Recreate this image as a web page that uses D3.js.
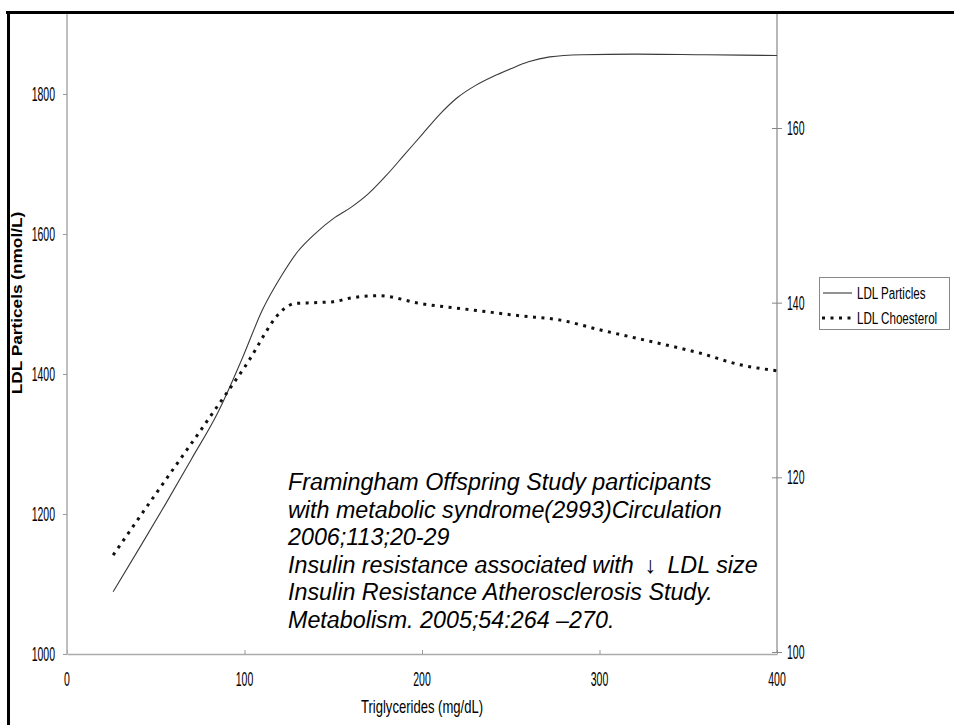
<!DOCTYPE html>
<html>
<head>
<meta charset="utf-8">
<script src="https://cdn.jsdelivr.net/npm/d3@7"></script>
<style>
  html, body { margin: 0; padding: 0; background: #fff; }
  svg { display: block; }
  text { font-family: "Liberation Sans", Arial, sans-serif; fill: #000; }
</style>
</head>
<body>
<svg id="chart" width="954" height="725"></svg>
<script>
// ---- data ----
const tgParticles = [26, 40, 55, 70, 85, 99, 110, 121, 130, 140, 150, 160, 170, 180, 190, 200, 210, 220, 230, 240, 250, 260, 272, 290, 320, 360, 400];
const ldlParticles = [1089, 1148, 1212, 1278, 1345, 1424, 1491, 1541, 1575, 1601, 1622, 1638, 1658, 1684, 1713, 1742, 1771, 1795, 1812, 1825, 1836, 1846, 1853, 1856, 1857, 1856, 1855];

const tgCholesterol = [26, 50, 75, 100, 123, 128, 139, 150, 159, 176, 199, 227, 255, 278, 300, 328, 357, 379, 400];
const ldlCholesterol = [111.1, 118.1, 125.3, 132.6, 139.4, 139.9, 140.0, 140.1, 140.5, 140.8, 139.9, 139.2, 138.5, 138.0, 136.9, 135.6, 134.2, 132.9, 132.2];

const xTicks = [0, 100, 200, 300, 400];
const leftTicks = [1000, 1200, 1400, 1600, 1800];
const rightTicks = [100, 120, 140, 160];

const seriesNames = ["LDL Particles", "LDL Choesterol"];
const xTitle = "Triglycerides (mg/dL)";
const yTitle = "LDL Particels (nmol/L)";
const noteLines = [
  ["Framingham Offspring Study participants"],
  ["with metabolic syndrome(2993)Circulation"],
  ["2006;113;20-29"],
  ["Insulin resistance associated with", "\u2193", "LDL size"],
  ["Insulin Resistance Atherosclerosis Study."],
  ["Metabolism. 2005;54:264 \u2013270."]
];

// ---- layout ----
const svg = d3.select("#chart");
const plotTop = 13;
const x = d3.scaleLinear().domain([0, 400]).range([67, 777]);
const yL = d3.scaleLinear().domain([1000, 1800]).range([654, 94]);
const yR = d3.scaleLinear().domain([100, 160]).range([652, 128]);

// axes
const gx = svg.append("g").attr("transform", `translate(0,${yL(1000)})`)
  .call(d3.axisBottom(x).tickValues(xTicks).tickFormat("").tickSizeInner(-4).tickSizeOuter(0));
gx.select(".domain").attr("stroke", "#aaa").attr("stroke-width", 1.6);
gx.selectAll(".tick line").attr("stroke", "#999");

const gl = svg.append("g").attr("transform", `translate(${x(0)},0)`)
  .call(d3.axisLeft(yL).tickValues(leftTicks).tickFormat("").tickSizeInner(4).tickSizeOuter(0));
gl.select(".domain").attr("d", `M0,${plotTop}V${yL(1000)}`).attr("stroke", "#b0b0b0").attr("stroke-width", 1.6);
gl.selectAll(".tick line").attr("stroke", "#999");

const gr = svg.append("g").attr("transform", `translate(${x(400)},0)`)
  .call(d3.axisRight(yR).tickValues(rightTicks).tickFormat("").tickSizeInner(5).tickSizeOuter(0));
gr.select(".domain").attr("d", `M0,${plotTop}V${yR(100)}`).attr("stroke", "#888").attr("stroke-width", 1.2);
gr.selectAll(".tick line").attr("x1", -5).attr("stroke", "#888");

// stretched labels helper
function label(g, txt, px, py, opts) {
  const o = Object.assign({ size: 15, sx: 0.7, sy: 1.3, anchor: "start", weight: "normal", rotate: 0 }, opts);
  return g.append("text")
    .attr("transform", `translate(${px},${py}) rotate(${o.rotate}) scale(${o.sx},${o.sy})`)
    .attr("text-anchor", o.anchor)
    .attr("dominant-baseline", "central")
    .attr("font-size", o.size)
    .attr("font-weight", o.weight)
    .text(txt);
}

const labels = svg.append("g");
leftTicks.forEach(v => label(labels, d3.format("d")(v), 55, yL(v), { anchor: "end" }));
rightTicks.forEach(v => label(labels, d3.format("d")(v), 787, yR(v), { anchor: "start" }));
xTicks.forEach(v => label(labels, d3.format("d")(v), x(v), 679, { anchor: "middle" }));

label(labels, xTitle, 422, 707, { anchor: "middle", size: 15, sx: 0.87, sy: 1.2 });
label(labels, yTitle, 17, 303, { anchor: "middle", size: 14, sx: 1.23, sy: 1, weight: "bold", rotate: -90 });

// lines
const lineP = d3.line().x((d, i) => x(tgParticles[i])).y(d => yL(d)).curve(d3.curveMonotoneX);
const lineC = d3.line().x((d, i) => x(tgCholesterol[i])).y(d => yR(d)).curve(d3.curveMonotoneX);

svg.append("path").datum(ldlParticles).attr("d", lineP)
  .attr("fill", "none").attr("stroke", "#3a3a3a").attr("stroke-width", 1.1);
svg.append("path").datum(ldlCholesterol).attr("d", lineC)
  .attr("fill", "none").attr("stroke", "#111").attr("stroke-width", 3).attr("stroke-dasharray", "3,5.5");

// legend
const lg = svg.append("g");
lg.append("rect").attr("x", 819.5).attr("y", 277.5).attr("width", 130).attr("height", 52)
  .attr("fill", "#fff").attr("stroke", "#888").attr("stroke-width", 1);
lg.append("line").attr("x1", 823).attr("x2", 852).attr("y1", 293).attr("y2", 293)
  .attr("stroke", "#3a3a3a").attr("stroke-width", 1.1);
lg.append("line").attr("x1", 822).attr("x2", 855).attr("y1", 318).attr("y2", 318)
  .attr("stroke", "#111").attr("stroke-width", 3).attr("stroke-dasharray", "3,5.5");
label(lg, seriesNames[0], 857, 293, { size: 14, sx: 0.83, sy: 1.15 });
label(lg, seriesNames[1], 857, 318, { size: 14, sx: 0.83, sy: 1.15 });

// annotation
const note = svg.append("g");
noteLines.forEach((parts, i) => {
  const t = note.append("text").attr("x", 288).attr("y", 490 + i * 27.6)
    .attr("font-size", 23.3).attr("font-style", "italic");
  parts.forEach((p, j) => {
    t.append("tspan").attr("dx", j === 0 ? 0 : 11).text(p);
  });
});

// frame
svg.append("line").attr("x1", 6).attr("x2", 954).attr("y1", 12.5).attr("y2", 12.5)
  .attr("stroke", "#000").attr("stroke-width", 3);
svg.append("line").attr("x1", 8.5).attr("x2", 8.5).attr("y1", 11).attr("y2", 725)
  .attr("stroke", "#000").attr("stroke-width", 3);
</script>
</body>
</html>
